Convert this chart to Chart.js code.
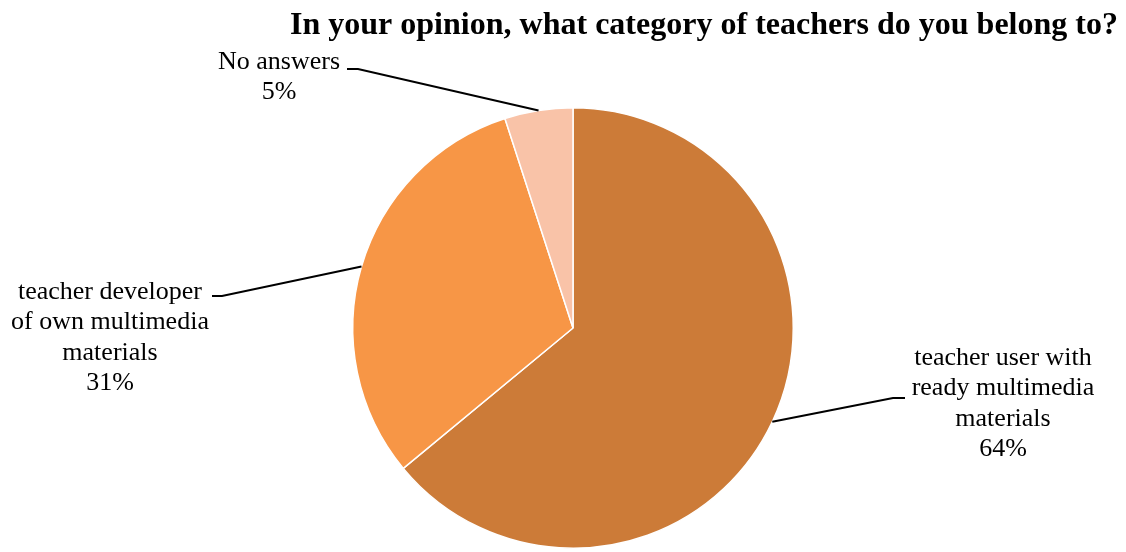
<!DOCTYPE html>
<html>
<head>
<meta charset="utf-8">
<script src="https://cdn.jsdelivr.net/npm/chart.js@4"></script>
<style>
  html, body { margin: 0; padding: 0; background: #fff; }
  #wrap { width: 1126px; height: 552px; position: relative; }
</style>
</head>
<body>
<div id="wrap"><canvas id="myChart"></canvas></div>
<script>
// Datos
const TITULO = "In your opinion, what category of teachers do you belong to?";
const categorias = [
  "teacher user with ready multimedia materials",
  "teacher developer of own multimedia materials",
  "No answers"
];
const valores = [64, 31, 5];
const etiquetas = [
  ["teacher user with", "ready multimedia", "materials", "64%"],
  ["teacher developer", "of own multimedia", "materials", "31%"],
  ["No answers", "5%"]
];
const colores = ["#CC7B38", "#F79646", "#F9C3A8"];

// posiciones de las etiquetas (centro x, y de la primera linea) y codo de la linea guia
const posEtiquetas = [
  { x: 1003, y: 358, codoX: 893, codoY: 398, finX: 905 },
  { x: 110, y: 292, codoX: 222, codoY: 296, finX: 212 },
  { x: 279, y: 62, codoX: 358, codoY: 69, finX: 347 }
];

const ctx = document.getElementById("myChart").getContext("2d");

const pluginEtiquetas = {
  id: "etiquetas",
  afterDraw(chart) {
    const c = chart.ctx;
    const meta = chart.getDatasetMeta(0);
    c.save();
    // titulo (algo comprimido a lo ancho, como en el original)
    c.fillStyle = "#000";
    c.textBaseline = "alphabetic";
    c.font = "bold 31px 'Liberation Serif'";
    const ancho = c.measureText(TITULO).width;
    const escala = 828 / ancho;
    c.save();
    c.translate(1118, 34);
    c.scale(escala, 1);
    c.textAlign = "right";
    c.fillText(TITULO, 0, 0);
    c.restore();

    // lineas guia y etiquetas
    c.font = "26px 'Liberation Serif'";
    c.textAlign = "center";
    c.textBaseline = "middle";
    meta.data.forEach((arc, i) => {
      const p = arc.getProps(["x", "y", "startAngle", "endAngle", "outerRadius"], true);
      const mid = (p.startAngle + p.endAngle) / 2;
      const sx = p.x + Math.cos(mid) * p.outerRadius;
      const sy = p.y + Math.sin(mid) * p.outerRadius;
      const pos = posEtiquetas[i];
      c.strokeStyle = "#000";
      c.lineWidth = 2;
      c.beginPath();
      c.moveTo(sx, sy);
      c.lineTo(pos.codoX, pos.codoY);
      c.lineTo(pos.finX, pos.codoY);
      c.stroke();
      etiquetas[i].forEach((linea, j) => {
        c.fillText(linea, pos.x, pos.y + j * 30.5);
      });
    });
    c.restore();
  }
};

const myChart = new Chart(ctx, {
  type: "pie",
  data: {
    labels: categorias,
    datasets: [
      {
        data: valores,
        backgroundColor: colores,
        borderColor: "#ffffff",
        borderWidth: 1.5,
      },
    ],
  },
  options: {
    responsive: true,
    maintainAspectRatio: false,
    animation: false,
    layout: {
      padding: { top: 107, bottom: 3, left: 20, right: 0 },
    },
    plugins: {
      legend: { display: false },
      tooltip: { enabled: false },
    },
  },
  plugins: [pluginEtiquetas],
});
</script>
</body>
</html>
